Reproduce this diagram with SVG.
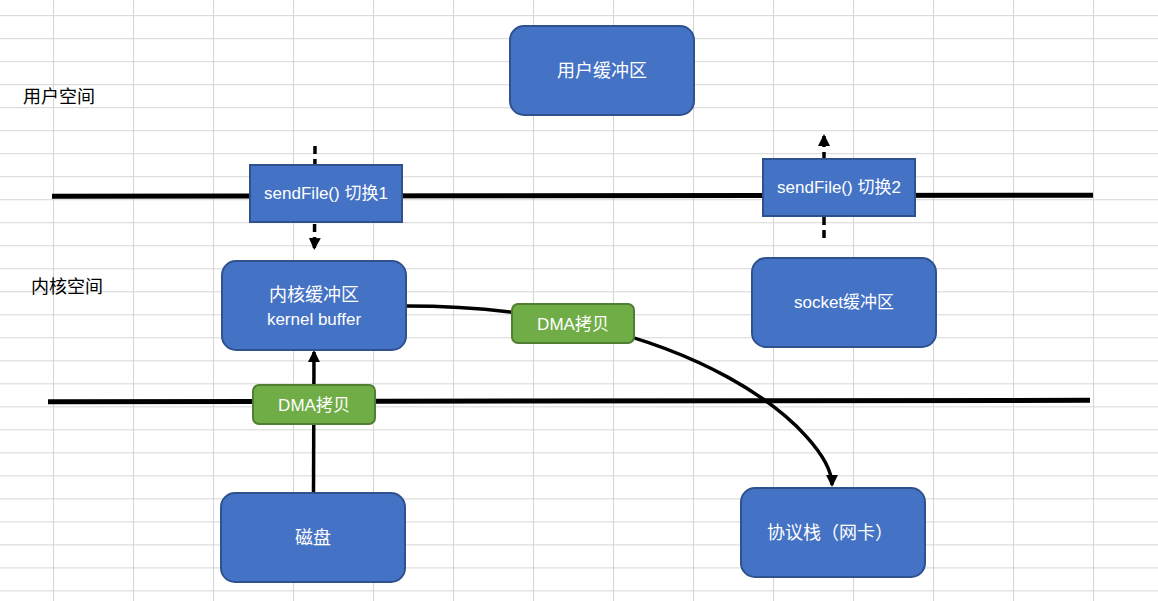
<svg xmlns="http://www.w3.org/2000/svg" width="1158" height="601" viewBox="0 0 1158 601">
  <defs>
    <pattern id="grid" x="53" y="15.2" width="80" height="23.01" patternUnits="userSpaceOnUse">
      <path d="M0.5,0 V23.01 M0,0.5 H80" fill="none" stroke="#d4d4d4" stroke-width="1"/>
    </pattern>
    <marker id="arrow" markerUnits="userSpaceOnUse" markerWidth="12" markerHeight="14" viewBox="0 0 12 14" refX="10" refY="7" orient="auto">
      <path d="M0,1 L12,7 L0,13 Z" fill="#000"/>
    </marker>
    <style>
      .blue { fill: #4472c4; stroke: #2f528f; stroke-width: 2; }
      .green { fill: #70ad47; stroke: #507e32; stroke-width: 2; }
      .wt { fill: #ffffff; font-family: "Liberation Sans", "Noto Sans CJK SC", sans-serif; font-size: 18px; text-anchor: middle; dominant-baseline: central; }
      .sm { font-size: 17px; }
      .lbl { fill: #000; font-family: "Liberation Sans", "Noto Sans CJK SC", sans-serif; font-size: 18px; dominant-baseline: central; }
      .bound { stroke: #000; stroke-width: 5; fill: none; }
      .conn { stroke: #000; stroke-width: 3.5; fill: none; }
      .dash { stroke-dasharray: 8 5; }
    </style>
  </defs>

  <rect x="0" y="0" width="1158" height="601" fill="#ffffff"/>
  <rect x="0" y="0" width="1158" height="601" fill="url(#grid)"/>

  <g id="boundaries">
    <path class="bound" d="M52,196.3 L1093,195.3"/>
    <path class="bound" d="M48,401.7 L1090,400.3"/>
  </g>

  <g id="labels">
    <text class="lbl" x="23" y="97">用户空间</text>
    <text class="lbl" x="31" y="287">内核空间</text>
  </g>

  <g id="connectors">
    <path class="conn dash" d="M315,146 L314.5,240"/>
    <path class="conn" d="M314.5,244 L314.3,248" marker-end="url(#arrow)"/>
    <path class="conn dash" d="M824,238 L824,146"/>
    <path class="conn" d="M824,140 L824,136" marker-end="url(#arrow)"/>
    <path class="conn" d="M313.5,492 L314,352" marker-end="url(#arrow)"/>
    <path class="conn" d="M406,306 C696,306 832,436 832,485" marker-end="url(#arrow)"/>
  </g>

  <g id="node-user-buffer">
    <rect class="blue" x="510" y="26" width="184" height="89" rx="14"/>
    <text class="wt" x="602" y="71">用户缓冲区</text>
  </g>
  <g id="node-switch1">
    <rect class="blue" x="250" y="165" width="152" height="57"/>
    <text class="wt sm" x="326" y="193">sendFile() 切换1</text>
  </g>
  <g id="node-switch2">
    <rect class="blue" x="763" y="159" width="152" height="57"/>
    <text class="wt sm" x="839" y="187">sendFile() 切换2</text>
  </g>
  <g id="node-kernel-buffer">
    <rect class="blue" x="222" y="261" width="184" height="89" rx="14"/>
    <text class="wt" x="314" y="295">内核缓冲区</text>
    <text class="wt sm" x="314" y="319">kernel buffer</text>
  </g>
  <g id="node-socket-buffer">
    <rect class="blue" x="752" y="258" width="184" height="89" rx="14"/>
    <text class="wt sm" x="844" y="302">socket缓冲区</text>
  </g>
  <g id="node-disk">
    <rect class="blue" x="221" y="493" width="184" height="89" rx="14"/>
    <text class="wt" x="313" y="538">磁盘</text>
  </g>
  <g id="node-nic">
    <rect class="blue" x="741" y="488" width="184" height="89" rx="14"/>
    <text class="wt" x="830" y="533">协议栈（网卡）</text>
  </g>
  <g id="node-dma1">
    <rect class="green" x="253" y="385" width="122" height="39" rx="6"/>
    <text class="wt sm" x="314" y="405">DMA拷贝</text>
  </g>
  <g id="node-dma2">
    <rect class="green" x="512" y="304" width="122" height="39" rx="6"/>
    <text class="wt sm" x="573" y="324">DMA拷贝</text>
  </g>
</svg>
